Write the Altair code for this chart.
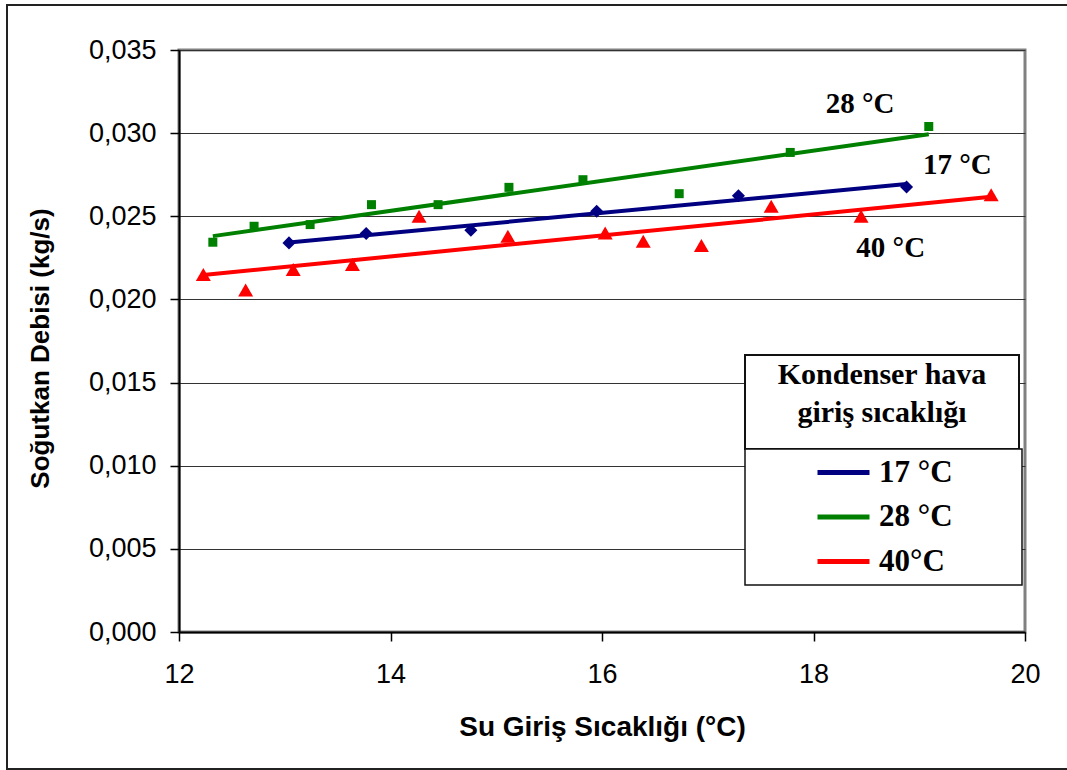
import altair as alt
import pandas as pd

# ---- data ----
series_names = ["17 °C", "28 °C", "40°C"]
series_colors = ["#000080", "#008000", "#FF0000"]
series_shapes = ["diamond", "square", "triangle-up"]
series_sizes = [170, 81, 225]

x_17 = [13.04, 13.77, 14.76, 15.95, 17.29, 18.88]
y_17 = [0.02340, 0.02396, 0.02416, 0.02530, 0.02624, 0.02676]

x_28 = [12.32, 12.71, 13.24, 13.82, 14.45, 15.12, 15.82, 16.73, 17.78, 19.09]
y_28 = [0.02344, 0.02440, 0.02450, 0.02570, 0.02570, 0.02674, 0.02720, 0.02636, 0.02884, 0.03040]

x_40 = [12.23, 12.63, 13.08, 13.64, 14.27, 15.11, 16.03, 16.39, 16.94, 17.60, 18.45, 19.68]
y_40 = [0.02150, 0.02056, 0.02180, 0.02210, 0.02500, 0.02380, 0.02400, 0.02350, 0.02324, 0.02560, 0.02500, 0.02630]

x_ticks = [12, 14, 16, 18, 20]
y_ticks = [0.0, 0.005, 0.010, 0.015, 0.020, 0.025, 0.030, 0.035]

x_title = "Su Giriş Sıcaklığı (°C)"
y_title = "Soğutkan Debisi (kg/s)"
legend_title = ["Kondenser hava", "giriş sıcaklığı"]

# in-plot labels next to the trend lines (data coordinates)
note_text = ["28 °C", "17 °C", "40 °C"]
note_x = [18.44, 19.36, 18.73]
note_y = [0.03176, 0.02810, 0.02312]

rows = []
for name, xs, ys in zip(series_names, [x_17, x_28, x_40], [y_17, y_28, y_40]):
    for a, b in zip(xs, ys):
        rows.append({"series": name, "x": a, "y": b})
df = pd.DataFrame(rows)

notes = pd.DataFrame({"label": note_text, "x": note_x, "y": note_y})
one = pd.DataFrame({"k": [0]})

W, H = 846, 582
PL, PT = 179, 50

xscale = alt.Scale(domain=[12, 20], nice=False, zero=False)
yscale = alt.Scale(domain=[0, 0.035], nice=False)
cscale = alt.Scale(domain=series_names, range=series_colors)

xaxis = alt.Axis(values=x_ticks, format="d", grid=False, labelFlush=False,
                 title=x_title, titleX=423, titleY=103, titleFontSize=28,
                 titleBaseline="alphabetic", titleAlign="center")
yaxis = alt.Axis(values=y_ticks, grid=True, title=y_title, labelFlush=False,
                 labelExpr="replace(format(datum.value, '.3f'), '.', ',')",
                 titleAngle=270, titleX=-131, titleY=298, titleFontSize=26,
                 titleBaseline="alphabetic", titleAlign="center")

# outer frame
frame = alt.Chart(one).mark_rect(fill=None, stroke="#222222", strokeWidth=2).encode(
    x=alt.value(7 - PL), x2=alt.value(1090 - PL),
    y=alt.value(5 - PT), y2=alt.value(769 - PT),
)

# legend boxes
title_box = alt.Chart(one).mark_rect(fill="white", stroke="#111111", strokeWidth=2).encode(
    x=alt.value(745 - PL), x2=alt.value(1019 - PL),
    y=alt.value(355 - PT), y2=alt.value(449 - PT),
)
entries_box = alt.Chart(one).mark_rect(fill="white", stroke="#111111", strokeWidth=1.5).encode(
    x=alt.value(745 - PL), x2=alt.value(1022 - PL),
    y=alt.value(449 - PT), y2=alt.value(585 - PT),
)
title_text = alt.Chart(one).mark_text(
    font="Liberation Serif", fontWeight="bold", fontSize=30, lineHeight=38,
    align="center", baseline="middle", color="black",
).encode(x=alt.value(882 - PL), y=alt.value(375 - PT), text=alt.value(legend_title))

base = alt.Chart(df)

lines = base.transform_regression("x", "y", groupby=["series"]).mark_line(strokeWidth=4).encode(
    x=alt.X("x:Q", scale=xscale, axis=xaxis),
    y=alt.Y("y:Q", scale=yscale, axis=yaxis),
    color=alt.Color("series:N", scale=cscale, legend=alt.Legend(
        title=None, orient="none", legendX=636, legendY=394,
        symbolType="stroke", symbolSize=2704, symbolStrokeWidth=5,
        labelFont="Liberation Serif", labelFontSize=31, labelFontWeight="bold",
        labelColor="black", labelOffset=7, rowPadding=0.5, padding=0,
        labelLimit=300,
    )),
)

point_layers = []
for name, shp, sz in zip(series_names, series_shapes, series_sizes):
    point_layers.append(
        base.transform_filter(alt.datum.series == name)
        .transform_calculate(grp="datum.series")
        .mark_point(filled=True, opacity=1, shape=shp, size=sz)
        .encode(
            x=alt.X("x:Q", scale=xscale),
            y=alt.Y("y:Q", scale=yscale),
            color=alt.Color("grp:N", scale=cscale, legend=None),
        )
    )

note_marks = alt.Chart(notes).mark_text(
    font="Liberation Serif", fontWeight="bold", fontSize=29, color="black",
    align="center", baseline="middle",
).encode(x=alt.X("x:Q", scale=xscale), y=alt.Y("y:Q", scale=yscale), text="label:N")

chart = alt.layer(frame, title_box, entries_box, title_text, lines, *point_layers, note_marks).properties(
    width=W, height=H,
    autosize=alt.AutoSizeParams(type="none"),
    padding={"left": PL, "top": PT, "right": 1067 - PL - W, "bottom": 770 - PT - H},
    background="white",
).configure_view(
    stroke="#808080", strokeWidth=3,
).configure_axis(
    domainColor="black", domainWidth=2,
    tickColor="black", tickSize=9, tickWidth=1.5,
    gridColor="#333333", gridWidth=1, gridOpacity=1,
    labelFont="Liberation Sans", labelFontSize=27, labelColor="black",
    titleFont="Liberation Sans", titleFontSize=27, titleFontWeight="bold", titleColor="black",
).configure_axisX(
    labelPadding=20,
).configure_axisY(
    labelPadding=14,
)

chart.save("out.html", embed_options={"renderer": "svg", "actions": False})
